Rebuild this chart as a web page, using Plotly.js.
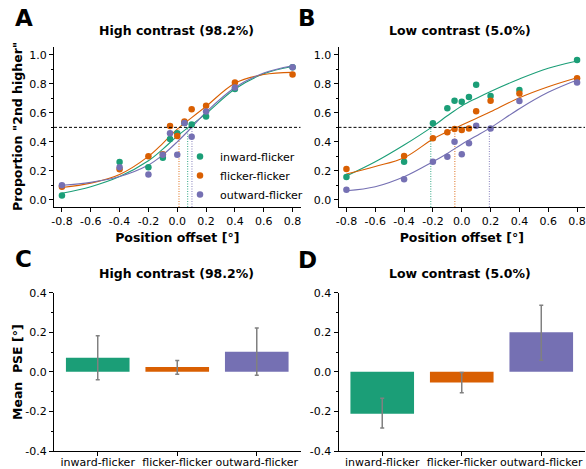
<!DOCTYPE html>
<html><head><meta charset="utf-8">
<script src="https://cdn.plot.ly/plotly-3.0.1.min.js"></script>
<style>html,body{margin:0;padding:0;background:#fff}#chart{width:586px;height:469px}</style>
</head><body><div id="chart"></div>
<script>
// ---------- data ----------
const conditions = ['inward-flicker', 'flicker-flicker', 'outward-flicker'];
const colors = ['#1b9e77', '#d95f02', '#7570b3'];

// observed proportions "2nd higher"
const offsets = [-0.8, -0.4, -0.2, -0.1, -0.05, 0, 0.05, 0.1, 0.2, 0.4, 0.8];
const highInward  = [0.03, 0.26, 0.225, 0.29, 0.42, 0.46, 0.53, 0.52, 0.575, 0.765, 0.915];
const highFlicker = [0.09, 0.21, 0.30, 0.315, 0.51, 0.44, 0.54, 0.625, 0.65, 0.81, 0.865];
const highOutward = [0.10, 0.225, 0.175, 0.31, 0.46, 0.31, 0.53, 0.435, 0.61, 0.775, 0.915];
const lowInward   = [0.157, 0.263, 0.528, 0.632, 0.684, 0.677, 0.71, 0.795, 0.717, 0.758, 0.965];
const lowFlicker  = [0.212, 0.302, 0.424, 0.466, 0.489, 0.482, 0.493, 0.611, 0.684, 0.733, 0.839];
const lowOutward  = [0.069, 0.141, 0.263, 0.297, 0.401, 0.314, 0.39, 0.511, 0.493, 0.682, 0.809];

// fitted psychometric curves
const fitX = [-0.8, -0.6, -0.4, -0.2, -0.1, 0, 0.1, 0.2, 0.4, 0.6, 0.8];
const highFitInward  = [0.045, 0.09, 0.16, 0.27, 0.35, 0.44, 0.518, 0.595, 0.765, 0.87, 0.92];
const highFitFlicker = [0.085, 0.115, 0.175, 0.30, 0.39, 0.488, 0.567, 0.645, 0.805, 0.865, 0.88];
const highFitOutward = [0.10, 0.12, 0.16, 0.24, 0.31, 0.40, 0.50, 0.605, 0.775, 0.875, 0.925];
const lowFitInward   = [0.164, 0.262, 0.378, 0.507, 0.58, 0.648, 0.70, 0.748, 0.834, 0.908, 0.958];
const lowFitFlicker  = [0.178, 0.23, 0.29, 0.42, 0.47, 0.516, 0.562, 0.608, 0.705, 0.781, 0.843];
const lowFitOutward  = [0.062, 0.09, 0.159, 0.263, 0.32, 0.384, 0.44, 0.498, 0.629, 0.742, 0.827];

// points of subjective equality (dotted lines)
const pseHigh = [0.072, 0.012, 0.102];
const pseLow  = [-0.215, -0.048, 0.192];
const threshold = 0.5;

// mean PSE bars with asymmetric error bars
const meanHigh      = [0.071, 0.025, 0.101];
const errHighPlus   = [0.112, 0.032, 0.121];
const errHighMinus  = [0.111, 0.037, 0.118];
const meanLow       = [-0.212, -0.054, 0.200];
const errLowPlus    = [0.079, 0.051, 0.137];
const errLowMinus   = [0.072, 0.052, 0.141];

// ticks
const xTickVals = [-0.8, -0.6, -0.4, -0.2, 0, 0.2, 0.4, 0.6, 0.8];
const xTickText = ['-0.8', '-0.6', '-0.4', '-0.2', '0.0', '0.2', '0.4', '0.6', '0.8'];
const pTickVals = [0, 0.2, 0.4, 0.6, 0.8, 1.0];
const pTickText = ['0.0', '0.2', '0.4', '0.6', '0.8', '1.0'];
const pMinorVals = [0.1, 0.3, 0.5, 0.7, 0.9];
const bTickVals = [-0.4, -0.2, 0, 0.2, 0.4];
const bTickText = ['-0.4', '-0.2', '0.0', '0.2', '0.4'];
const bMinorVals = [-0.3, -0.1, 0.1, 0.3];

// ---------- build ----------
const FONT = 'DejaVu Sans, sans-serif';
const pRange = [-0.05, 1.055];
const xRange = [-0.855, 0.855];

const traces = [];
function psychPanel(xa, ya, obs, fits, pse, showLegend) {
  for (let i = 0; i < 3; i++) {
    traces.push({
      x: [pse[i], pse[i]], y: [pRange[0], threshold], xaxis: xa, yaxis: ya,
      mode: 'lines', line: {color: colors[i], width: 1.2, dash: '1px,1.5px'},
      opacity: 0.75, showlegend: false, hoverinfo: 'skip'
    });
  }
  for (let i = 0; i < 3; i++) {
    traces.push({
      x: fitX, y: fits[i], xaxis: xa, yaxis: ya, mode: 'lines',
      line: {color: colors[i], width: 1.1, shape: 'spline', smoothing: 1},
      showlegend: false, hoverinfo: 'skip'
    });
  }
  for (let i = 0; i < 3; i++) {
    traces.push({
      x: offsets, y: obs[i], xaxis: xa, yaxis: ya, mode: 'markers',
      name: conditions[i], marker: {color: colors[i], size: 6.5},
      showlegend: showLegend, hoverinfo: 'skip'
    });
  }
}
psychPanel('x', 'y', [highInward, highFlicker, highOutward],
  [highFitInward, highFitFlicker, highFitOutward], pseHigh, true);
psychPanel('x2', 'y2', [lowInward, lowFlicker, lowOutward],
  [lowFitInward, lowFitFlicker, lowFitOutward], pseLow, false);

function barPanel(xa, ya, means, plus, minus) {
  traces.push({
    type: 'bar', x: conditions, y: means, xaxis: xa, yaxis: ya,
    width: 0.8, marker: {color: colors, line: {width: 0}},
    error_y: {type: 'data', symmetric: false, array: plus, arrayminus: minus,
              color: '#808080', thickness: 1.5, width: 2},
    showlegend: false, hoverinfo: 'skip'
  });
}
barPanel('x3', 'y3', meanHigh, errHighPlus, errHighMinus);
barPanel('x4', 'y4', meanLow, errLowPlus, errLowMinus);

const W = 586, H = 469;
const px = v => v / W;
const py = v => 1 - v / H;

const axisBase = {
  showline: true, linecolor: '#000', linewidth: 1, ticks: 'outside', ticklen: 4,
  tickwidth: 1, tickcolor: '#000', showgrid: false, zeroline: false,
  tickfont: {family: FONT, size: 11, color: '#000'}, fixedrange: true
};
const titleFont = {family: FONT, size: 12.5, color: '#000', weight: 'bold'};

function xPsych(domain, anchor) {
  return Object.assign({}, axisBase, {
    domain: domain, anchor: anchor, range: xRange,
    tickmode: 'array', tickvals: xTickVals, ticktext: xTickText,
    title: {text: 'Position offset [°]', font: titleFont, standoff: 6}
  });
}
function yPsych(domain, anchor) {
  return Object.assign({}, axisBase, {
    domain: domain, anchor: anchor, range: pRange,
    tickmode: 'array', tickvals: pTickVals, ticktext: pTickText,
    minor: {tickmode: 'array', tickvals: pMinorVals, ticks: 'outside', ticklen: 2, tickcolor: '#000', showgrid: false}
  });
}
function xBar(domain, anchor) {
  return Object.assign({}, axisBase, {
    domain: domain, anchor: anchor, range: [-0.55, 2.55], type: 'category',
    ticklabelstandoff: -3
  });
}
function yBar(domain, anchor) {
  return Object.assign({}, axisBase, {
    domain: domain, anchor: anchor, range: [-0.4, 0.4],
    tickmode: 'array', tickvals: bTickVals, ticktext: bTickText,
    minor: {tickmode: 'array', tickvals: bMinorVals, ticks: 'outside', ticklen: 2, tickcolor: '#000', showgrid: false}
  });
}

const leftDom = [px(54), px(300.5)];
const rightDom = [px(338.5), px(585)];
const topDom = [py(207), py(47)];
const botDom = [py(451), py(292.7)];

function ann(text, x, y, size, extra) {
  return Object.assign({
    text: text, x: px(x), y: py(y), xref: 'paper', yref: 'paper',
    xanchor: 'center', yanchor: 'middle', showarrow: false,
    font: {family: FONT, size: size, color: '#000', weight: 'bold'}
  }, extra || {});
}

const layout = {
  width: W, height: H, margin: {l: 0, r: 0, t: 0, b: 0},
  paper_bgcolor: '#fff', plot_bgcolor: 'rgba(0,0,0,0)',
  font: {family: FONT, color: '#000'},
  xaxis: xPsych(leftDom, 'y'), yaxis: yPsych(topDom, 'x'),
  xaxis2: xPsych(rightDom, 'y2'), yaxis2: yPsych(topDom, 'x2'),
  xaxis3: xBar(leftDom, 'y3'), yaxis3: yBar(botDom, 'x3'),
  xaxis4: xBar(rightDom, 'y4'), yaxis4: yBar(botDom, 'x4'),
  bargap: 0.2,
  showlegend: true,
  legend: {x: px(180), xanchor: 'left', y: py(142), yanchor: 'top',
           bgcolor: 'rgba(0,0,0,0)', borderwidth: 0,
           font: {family: FONT, size: 11, color: '#000'}},
  shapes: [
    {type: 'line', xref: 'x domain', yref: 'y', x0: 0, x1: 1, y0: threshold, y1: threshold,
     line: {color: '#000', width: 1, dash: '3px,2px'}},
    {type: 'line', xref: 'x2 domain', yref: 'y2', x0: 0, x1: 1, y0: threshold, y1: threshold,
     line: {color: '#000', width: 1, dash: '3px,2px'}}
  ],
  annotations: [
    ann('A', 24, 18, 23), ann('B', 307, 18, 23),
    ann('C', 23, 259, 23), ann('D', 307, 260, 23),
    ann('High contrast (98.2%)', 176, 30, 12.5),
    ann('Low contrast (5.0%)', 460, 30, 12.5),
    ann('High contrast (98.2%)', 176, 273, 12.5),
    ann('Low contrast (5.0%)', 460, 273, 12.5),
    ann('Proportion "2nd higher"', 17, 127, 12.5, {textangle: -90}),
    ann('Mean\u00a0 PSE [°]', 17, 372, 12.5, {textangle: -90})
  ]
};

Plotly.newPlot('chart', traces, layout, {displayModeBar: false, staticPlot: true});
</script>
</body></html>
